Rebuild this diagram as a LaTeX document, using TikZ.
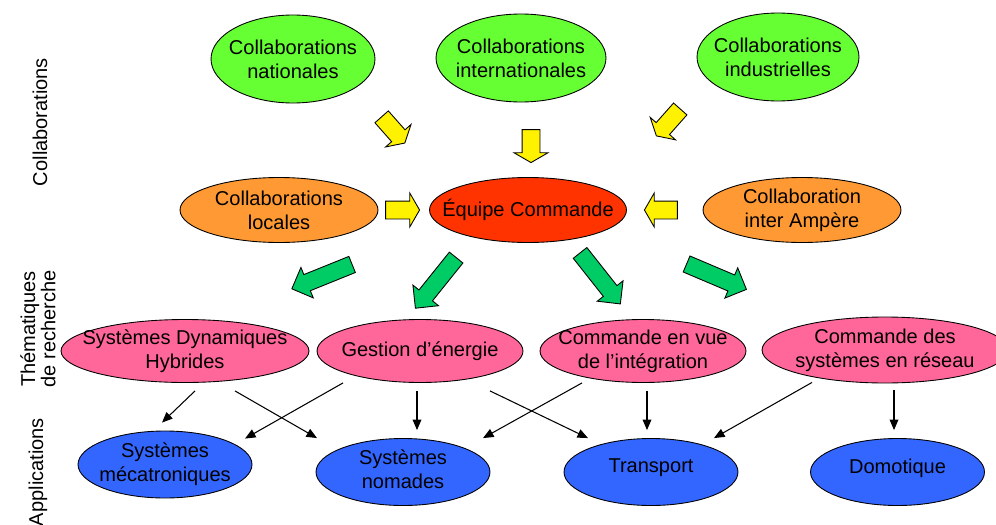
\documentclass[tikz,border=0pt]{standalone}
\usepackage{fontspec}
\setmainfont{Liberation Sans}
\usetikzlibrary{shapes.geometric,shapes.arrows,calc,arrows.meta}
\definecolor{vertclair}{HTML}{66FF33}
\definecolor{orange}{HTML}{FF9933}
\definecolor{rouge}{HTML}{FF3300}
\definecolor{rose}{HTML}{FF6699}
\definecolor{bleu}{HTML}{3366FF}
\definecolor{vertfonce}{HTML}{00CC66}
\begin{document}
\begin{tikzpicture}[x=0.02cm,y=-0.02cm,line width=0.5pt,
  txt/.style={align=center,font=\fontsize{11.4}{13.6}\selectfont},
  ell/.style={ellipse,draw,inner sep=0pt},
  collab/.style={ell,fill=vertclair,minimum height=1.76cm},
  local/.style={ell,fill=orange,minimum width=3.96cm,minimum height=1.3cm},
  theme/.style={ell,fill=rose,minimum width=4.12cm,minimum height=1.26cm},
  appli/.style={ell,fill=bleu,minimum width=3.48cm,minimum height=1.34cm},
  jaune/.style={single arrow,draw,fill=yellow,inner xsep=0pt,inner ysep=0.17cm,single arrow head extend=0.16cm,single arrow tip angle=120},
  vert/.style={single arrow,draw,fill=vertfonce,inner xsep=0pt,inner ysep=0.165cm,single arrow head extend=0.155cm,single arrow tip angle=90,minimum height=1.3cm},
  fine/.style={-{Triangle[length=6pt,width=5pt]},line width=0.6pt}]

\useasboundingbox (0,0) rectangle (996,524);

% titres a gauche
\node[txt,rotate=90] (lcollab) at (40,122) {Collaborations};
\node[txt,rotate=90,font=\fontsize{11.4}{10.6}\selectfont] (lthem) at (38,329) {Thématiques\\de recherche};
\node[txt,rotate=90] (lappli) at (38,472) {Applications};

% collaborations
\node[collab,minimum width=3.28cm,label={[txt]center:Collaborations\\nationales}] (nat) at (293,59) {};
\node[collab,minimum width=3.4cm,label={[txt]center:Collaborations\\internationales}] (intl) at (521,58) {};
\node[collab,minimum width=3.24cm,label={[txt]center:Collaborations\\industrielles}] (indus) at (778,57) {};

\node[local,label={[txt]center:Collaborations\\locales}] (loc) at (279,210) {};
\node[ell,fill=rouge,minimum width=3.94cm,minimum height=1.3cm,label={[txt]center:Équipe Commande}] (equipe) at (528,210) {};
\node[local,label={[txt]center:Collaboration\\inter Ampère}] (amp) at (802,210) {};

\node[jaune,minimum height=0.7cm,rotate=-48.5] (fj1) at (391.5,128) {};
\node[jaune,minimum height=0.66cm,rotate=-90] (fj2) at (531,143.5) {};
\node[jaune,minimum height=0.72cm,rotate=-131.6] (fj3) at (670,120.5) {};
\node[jaune,minimum height=0.68cm] (fj4) at (400,210) {};
\node[jaune,minimum height=0.66cm,rotate=180] (fj5) at (663.5,210) {};

% thematiques
\node[vert,rotate=-158] (fv1) at (326,275) {};
\node[vert,rotate=-128.8] (fv2) at (438.5,279.5) {};
\node[vert,rotate=-51.7] (fv3) at (597.5,275) {};
\node[vert,rotate=-23] (fv4) at (712.5,275) {};

\node[theme,minimum width=4.96cm,label={[txt]center:Systèmes Dynamiques\\Hybrides}] (sdh) at (185,351) {};
\node[theme,label={[txt]center:Gestion d’énergie}] (gest) at (420,351) {};
\node[theme,label={[txt]center:Commande en vue\\de l’intégration}] (integ) at (643,351) {};
\node[theme,minimum width=4.92cm,minimum height=1.32cm,label={[txt]center:Commande des\\systèmes en réseau}] (reseau) at (885,350) {};

% applications
\node[appli,label={[txt]center:Systèmes\\mécatroniques}] (meca) at (165,464.5) {};
\node[appli,label={[txt,yshift=0.05cm]center:Systèmes\\nomades}] (nomad) at (403,472) {};
\node[appli,label={[txt,yshift=0.08cm]center:Transport}] (transp) at (651,472) {};
\node[appli,label={[txt,yshift=0.08cm]center:Domotique}] (domo) at (897.5,472) {};

\draw[fine] ($(sdh.south)+(10,8)$) -- ($(meca.north)+(-3,-8)$);
\draw[fine] ($(sdh.south)+(50,8)$) -- ($(nomad.north)+(-86,0)$);
\draw[fine] ($(gest.south)+(-77,0)$) -- ($(meca.north)+(80,8)$);
\draw[fine] ($(gest.south)+(-3,8)$) -- ($(nomad.north)+(14,-8)$);
\draw[fine] ($(gest.south)+(70,8)$) -- ($(transp.north)+(-63,0)$);
\draw[fine] ($(integ.south)+(-61,0)$) -- ($(nomad.north)+(80,0)$);
\draw[fine] ($(integ.south)+(4,8)$) -- ($(transp.north)+(-4,-8)$);
\draw[fine] ($(reseau.south)+(-73,-1)$) -- ($(transp.north)+(63,0)$);
\draw[fine] ($(reseau.south)+(9,7)$) -- ($(domo.north)+(-3.5,-8)$);

\end{tikzpicture}
\end{document}
